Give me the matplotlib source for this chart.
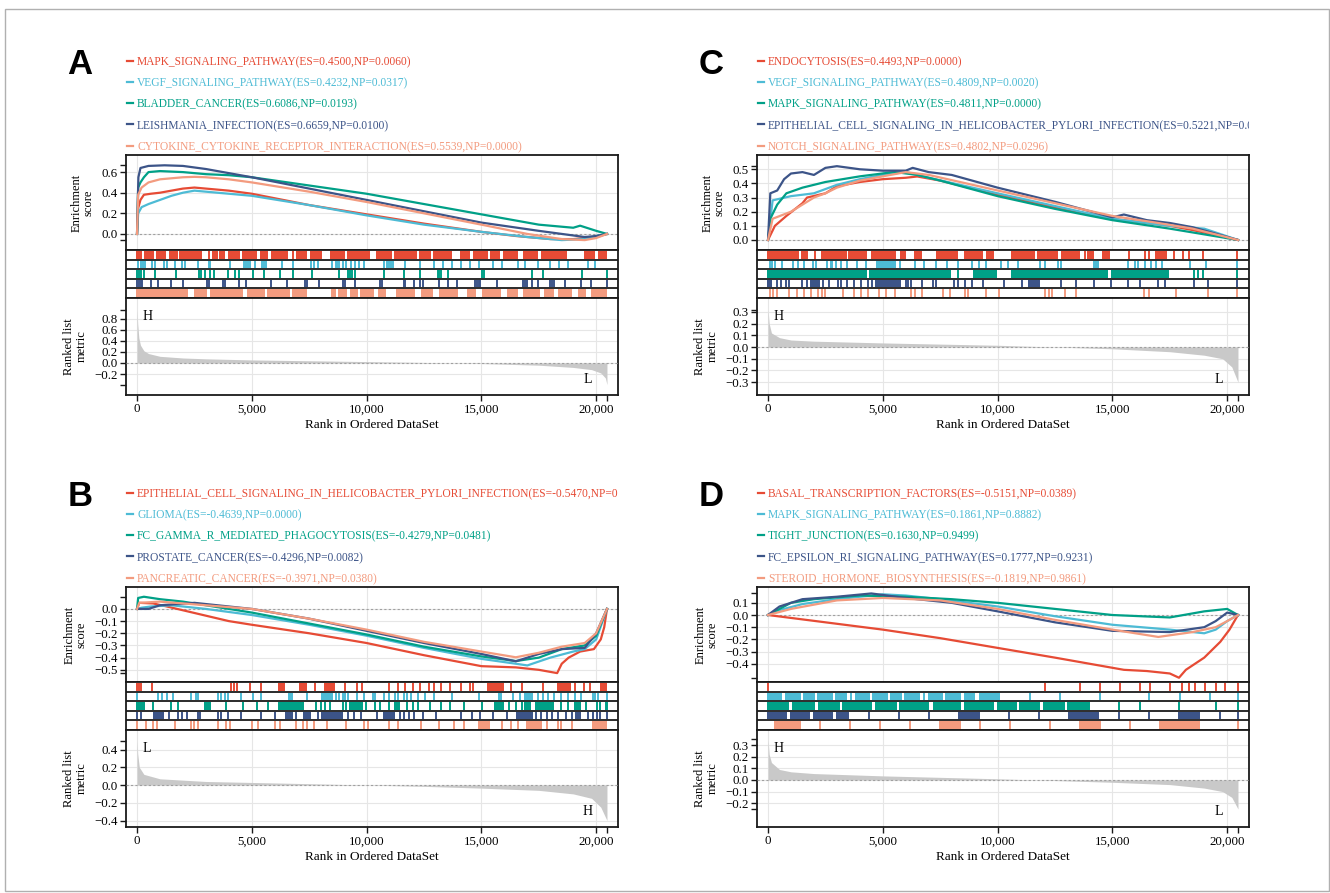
import matplotlib
matplotlib.use("Agg")
import matplotlib.pyplot as plt
from matplotlib.transforms import Bbox, TransformedBbox
from matplotlib.patches import Rectangle
from matplotlib.lines import Line2D

plt.rcParams['font.family'] = ['Liberation Serif', 'DejaVu Serif']
plt.rcParams['axes.unicode_minus'] = True

W, H = 1330, 893
N_GENES = 20470
COLORS = ["#E64B35", "#4DBBD5", "#00A087", "#3C5488", "#F39B7F"]
X_TICKS = [0, 5000, 10000, 15000, 20000]

# ---------------- Panel A ----------------
labels_A = ["MAPK_SIGNALING_PATHWAY(ES=0.4500,NP=0.0060)",
            "VEGF_SIGNALING_PATHWAY(ES=0.4232,NP=0.0317)",
            "BLADDER_CANCER(ES=0.6086,NP=0.0193)",
            "LEISHMANIA_INFECTION(ES=0.6659,NP=0.0100)",
            "CYTOKINE_CYTOKINE_RECEPTOR_INTERACTION(ES=0.5539,NP=0.0000)"]
es_A_red = [(0, 0), (50, 0.25), (150, 0.33), (300, 0.38), (600, 0.39), (1000, 0.40), (1500, 0.42), (2000, 0.44),
            (2500, 0.45), (3000, 0.44), (4000, 0.42), (5000, 0.39), (7500, 0.28), (10000, 0.19), (12500, 0.10),
            (15000, 0.02), (16500, -0.02), (18000, -0.05), (19000, -0.05), (20000, -0.03), (20470, 0)]
es_A_blue = [(0, 0), (50, 0.2), (200, 0.26), (500, 0.29), (1000, 0.33), (1500, 0.37), (2000, 0.40), (2500, 0.42),
             (3000, 0.41), (4000, 0.39), (5000, 0.37), (7500, 0.28), (10000, 0.18), (12500, 0.09), (15000, 0.02),
             (17000, -0.03), (18500, -0.06), (19500, -0.05), (20000, -0.02), (20470, 0)]
es_A_teal = [(0, 0), (50, 0.45), (150, 0.5), (300, 0.55), (500, 0.60), (1000, 0.61), (2000, 0.60), (3000, 0.58),
             (4000, 0.57), (5000, 0.55), (7500, 0.47), (10000, 0.39), (12500, 0.29), (15000, 0.19), (17500, 0.09),
             (19000, 0.06), (19300, 0.08), (20000, 0.03), (20470, 0)]
es_A_navy = [(0, 0), (60, 0.55), (150, 0.64), (500, 0.66), (1200, 0.666), (2000, 0.66), (3000, 0.63), (4000, 0.59),
             (5000, 0.55), (7500, 0.44), (10000, 0.33), (12500, 0.22), (15000, 0.11), (17500, 0.03),
             (19500, -0.03), (20000, -0.02), (20470, 0)]
es_A_salmon = [(0, 0), (50, 0.38), (200, 0.45), (500, 0.50), (1000, 0.53), (2000, 0.55), (2500, 0.554),
               (3000, 0.55), (4000, 0.53), (5000, 0.50), (7500, 0.41), (10000, 0.31), (12500, 0.20), (15000, 0.09),
               (17000, 0.0), (18500, -0.05), (19500, -0.06), (20000, -0.04), (20470, 0)]
# rug hits, in hundreds of ranks; (a, b) = dense block
rug_A_red = [(0, 2.0), (3.1, 7.0), (8.3, 12.5), (14, 17.6), (18.7, 28), 31.2, (32.7, 35.1), (35.8, 38.2),
             (39.7, 44.4), (46, 52.2), (53.8, 56.9), (58.4, 65.4), 68, (69.3, 74), (75.6, 80.2), (84.1, 90.4),
             (91.9, 101.3), (104.4, 110.6), (112.2, 121.5), (123.1, 127.8), (129.3, 137.1), (141, 144.9),
             (146.5, 152.7), (154.2, 157.8), (159.7, 165.6), (168.3, 174.5), (176, 187), (194.8, 199.4),
             (201, 204.6)]
rug_A_blue = [0.5, 1.6, 2.6, 3.6, 6.4, 7.8, 11.7, 13.2, 16.4, 19.5, 21, 26.5, 31.2, 31.9, 40.5, 46.7, 47.5, 48.3,
              49.1, 51.4, 54.5, 55.3, 56.1, 63.1, 67.8, 75.6, 77.1, 78.7, 84.9, 86.5, 87.2, 88, 89.6, 91.1, 93,
              95, 96.6, 98.9, 107.5, 109, 109.8, 110.6, 111.4, 116.9, 123.1, 129.3, 133.2, 137.1, 141, 144.9,
              148.8, 155, 158.9, 165.9, 169, 174.5, 180, 183.8, 187.7, 196.3, 199.4]
rug_A_teal = [0, 0.8, 1.6, 3.1, 7.8, 17.1, 27, 28, 29.6, 31.9, 33.5, 39.7, 42.8, 44.4, 50.6, 55.3, 62.3, 67.8,
              76.3, 88, 91.9, 92.7, 93.5, 95, 107.5, 116.1, 123.1, 130.9, 131.7, 132.5, 135.6, 150.3, 151.1,
              172.2, 176.9, 193.9, 204.6]
rug_A_navy = [0, 0.8, 1.6, 2.3, 6.2, 9.3, 14.8, 20.2, 30.4, 31.2, 37.4, 38.2, 44.4, 47.5, 58.4, 65.4, 73.2, 74,
              79.4, 89.6, 90.4, 95, 105.9, 106.7, 116.1, 116.9, 120.8, 123.1, 124.6, 131.7, 135.6, 139.5, 147.2,
              148, 148.8, 149.6, 156.6, 168.3, 169, 169.8, 172.2, 174.5, 180, 180.8, 181.6, 186.2, 193.2, 197.9,
              204.6]
rug_A_salmon = [(0, 21.8), (24.9, 30.4), (31.9, 46), (48.3, 55.3), (56.9, 66.2), (67.8, 74), (84.9, 86.5),
                (88, 91.1), (93, 95.8), (97.4, 102.8), (105.2, 108.3), (113, 120.7), (123.9, 128.5),
                (131.7, 139.4), (144.1, 147.2), (150.3, 158.1), (161.2, 165.9), (168.3, 175.3), (177.6, 181.5),
                (183.8, 189.3), (192.4, 195.5), (197.9, 204.6)]
metric_A = [(0, 0.96), (30, 0.7), (80, 0.45), (150, 0.32), (300, 0.22), (500, 0.17), (1000, 0.12), (2000, 0.09),
            (3000, 0.075), (5000, 0.055), (7500, 0.04), (10000, 0.025), (12500, 0.01), (15000, -0.01),
            (17500, -0.04), (19000, -0.08), (19800, -0.12), (20200, -0.18), (20400, -0.27), (20470, -0.39)]

# ---------------- Panel B ----------------
labels_B = ["EPITHELIAL_CELL_SIGNALING_IN_HELICOBACTER_PYLORI_INFECTION(ES=-0.5470,NP=0.0000)",
            "GLIOMA(ES=-0.4639,NP=0.0000)",
            "FC_GAMMA_R_MEDIATED_PHAGOCYTOSIS(ES=-0.4279,NP=0.0481)",
            "PROSTATE_CANCER(ES=-0.4296,NP=0.0082)",
            "PANCREATIC_CANCER(ES=-0.3971,NP=0.0380)"]
es_B_red = [(0, 0), (100, 0.05), (700, 0.045), (1300, 0.02), (4000, -0.10), (5000, -0.13), (7500, -0.20),
            (10000, -0.28), (12500, -0.38), (15000, -0.47), (16500, -0.48), (17500, -0.50), (18300, -0.527),
            (18500, -0.45), (18800, -0.40), (19300, -0.35), (19900, -0.33), (20200, -0.25), (20350, -0.15),
            (20470, 0)]
es_B_blue = [(0, 0), (200, 0.01), (600, 0.02), (1500, 0.03), (3000, 0.0), (5000, -0.05), (7500, -0.13),
             (10000, -0.22), (12500, -0.32), (15000, -0.41), (16500, -0.45), (17000, -0.464), (18000, -0.40),
             (19000, -0.35), (19500, -0.33), (20000, -0.25), (20470, 0)]
es_B_teal = [(0, 0), (50, 0.09), (300, 0.10), (1000, 0.08), (2000, 0.06), (3000, 0.03), (5000, -0.03),
             (7500, -0.12), (10000, -0.21), (12500, -0.31), (15000, -0.39), (16500, -0.428), (17500, -0.40),
             (18500, -0.33), (19500, -0.30), (20000, -0.22), (20470, 0)]
es_B_navy = [(0, 0), (500, 0.0), (1000, 0.03), (2500, 0.05), (5000, 0.0), (7500, -0.08), (10000, -0.18),
             (12500, -0.28), (15000, -0.37), (16500, -0.43), (17500, -0.37), (18500, -0.33), (19500, -0.32),
             (20000, -0.20), (20470, 0)]
es_B_salmon = [(0, 0), (100, 0.05), (1000, 0.06), (3000, 0.03), (5000, 0.0), (7500, -0.08), (10000, -0.17),
               (12500, -0.27), (15000, -0.35), (16500, -0.397), (17500, -0.36), (18500, -0.31), (19500, -0.28),
               (20000, -0.20), (20470, 0)]
rug_B_red = [0, 0.8, 1.6, 6.7, 41, 42.1, 43.6, 49.1, 53.8, (61.5, 64), (70.6, 74), 77.6, (81.5, 86.1), 90.4,
             95.8, 98.2, 109.8, 113.7, 116.9, 120, 123.1, 127, 129.3, 132.5, 136.4, 141, 144.9, 146.5,
             (152.7, 159.7), 162.8, 167.5, 176.9, (183.2, 188.6), 190.9, 194.8, 197.1, (201.8, 204.6)]
rug_B_blue = [0, 9.3, 10.9, 13.2, 15.6, 23.4, 25.7, 26.5, 35.1, 36.6, 38.2, 39.7, 45.2, 50.6, 53.8,
              (66.2, 67.8), 74, (80.2, 84.9), 86.5, 88, 89.6, 90.4, 92, 95.8, 98.9, 102.8, 103.6, 107.5, 109.8,
              112.2, 113.7, 116.1, 117.6, 119.2, 122.3, 125.4, 129.3, 137.1, 148.8, (157.4, 158.9), 163.6, 166.7,
              (169, 172.2), 174.5, 176.9, 179.2, 181.5, 184.6, 187.7, 190.8, 193.2, 198.6, 199.4, 201, 204.6]
rug_B_teal = [(0, 3.1), 7, 14.8, 17.9, (29.6, 31.9), 38.9, 46, 52.2, 56.9, (61.5, 72.4), 78, 80.2, 81.8, 84.1,
              89.6, 91.1, (92.7, 98.2), 99.7, 103.6, 105.9, 109.8, (112.2, 114.5), 117.6, 120, 122.3, 127.8,
              132.5, 136.4, 142.6, 150.3, (155.8, 159.7), 162, 165.2, 167.5, (169, 171.4), (173.8, 181.5),
              184.6, 187.7, (190.8, 193.2), 195.5, 200.2, 201.8, 204.1, 204.6]
rug_B_navy = [0, 1.6, (7, 11.7), 14, 17.9, 19.5, 21.8, 26.5, 27.3, 35.1, 36.6, 39.7, 45.2, 53.8, 60,
              (64.6, 67.8), 69.3, (72.4, 75.6), 78.7, (80.2, 89.6), 92, 94.3, 97.4, 104.4, (107.5, 112.2), 114.5,
              116.1, 118.4, 120.8, 124.6, 130.1, 141, 145.7, 149.6, 155, 161.2, (165.2, 172.2), 173.8, 176.1,
              178.4, 180.8, 183.2, 187, 189.4, (191, 193.2), 196.3, 198.6, 200.2, 201.8, 204.6]
rug_B_salmon = [0, 3.9, 7, 8.6, 16.4, 23.4, 24.9, 26.5, 35.1, 38.9, 40.5, 49.9, 52.9, 60, 62.3, 69.3, 72.4, 74,
                77.1, 82.6, 91.1, 98.9, 100.5, 109.8, 113.7, 123.9, 131.7, 137.9, 142.6, (148.8, 153.5), 158.9,
                162.8, 165.9, (169.8, 176.1), 178.4, 183.2, 184.8, 189.4, (198.6, 204.6)]
metric_B = [(0, 0.50), (30, 0.35), (100, 0.20), (300, 0.12), (1000, 0.07), (3000, 0.04), (7500, 0.015),
            (10000, 0.0), (12500, -0.015), (15000, -0.035), (17500, -0.06), (19000, -0.10), (19800, -0.15),
            (20200, -0.25), (20470, -0.40)]

# ---------------- Panel C ----------------
labels_C = ["ENDOCYTOSIS(ES=0.4493,NP=0.0000)",
            "VEGF_SIGNALING_PATHWAY(ES=0.4809,NP=0.0020)",
            "MAPK_SIGNALING_PATHWAY(ES=0.4811,NP=0.0000)",
            "EPITHELIAL_CELL_SIGNALING_IN_HELICOBACTER_PYLORI_INFECTION(ES=0.5221,NP=0.0000)",
            "NOTCH_SIGNALING_PATHWAY(ES=0.4802,NP=0.0296)"]
es_C_red = [(0, 0), (300, 0.10), (800, 0.17), (1500, 0.26), (1700, 0.30), (2500, 0.33), (3000, 0.38),
            (4000, 0.41), (5000, 0.43), (6000, 0.44), (6500, 0.449), (7500, 0.42), (10000, 0.32), (12500, 0.23),
            (15000, 0.15), (17500, 0.10), (18500, 0.07), (20470, 0)]
es_C_blue = [(0, 0), (200, 0.28), (1000, 0.31), (2000, 0.33), (3000, 0.39), (4000, 0.43), (5000, 0.46),
             (6000, 0.481), (7000, 0.44), (10000, 0.33), (12500, 0.24), (15000, 0.15), (17500, 0.10),
             (19000, 0.08), (20470, 0)]
es_C_teal = [(0, 0), (100, 0.15), (400, 0.25), (800, 0.33), (1500, 0.37), (2500, 0.41), (4000, 0.45),
             (5500, 0.481), (6500, 0.46), (7500, 0.42), (10000, 0.31), (12500, 0.22), (15000, 0.14),
             (17500, 0.08), (20470, 0)]
es_C_navy = [(0, 0), (100, 0.33), (400, 0.35), (700, 0.43), (1000, 0.47), (1500, 0.48), (2000, 0.46),
             (2500, 0.51), (3000, 0.522), (4000, 0.50), (5000, 0.49), (6000, 0.49), (6300, 0.51), (7000, 0.48),
             (8000, 0.46), (10000, 0.37), (12500, 0.27), (15000, 0.16), (15500, 0.18), (16500, 0.14),
             (17500, 0.12), (18500, 0.09), (20470, 0)]
es_C_salmon = [(0, 0), (200, 0.15), (1000, 0.20), (2000, 0.30), (2500, 0.33), (3000, 0.37), (4000, 0.42),
               (5000, 0.45), (6000, 0.48), (7000, 0.46), (10000, 0.35), (12500, 0.26), (15000, 0.17),
               (17000, 0.12), (18500, 0.08), (20470, 0)]
rug_C_red = [(0, 13.2), (14.8, 17.1), 20.3, (23.4, 34.3), (35.1, 42.8), (45.2, 55.3), (57.6, 60), (63.9, 67),
             (73.2, 82.6), (85.7, 93.5), (95, 98.2), (105.9, 116.1), (117.6, 126.2), (127.8, 135.5), 137.9,
             (139.4, 141.8), (145.7, 148.8), 157.4, 164.4, 165.9, (169, 173.7), 176.9, 180.8, 183.2, 189.4,
             204.1]
rug_C_blue = [0.8, 1.6, 3.1, 6.2, 10.9, 13.2, 15.6, 19.5, 21, 25.7, 27.3, 28, 29.6, 31.9, 34.3, 38.9, 42.8,
              (47.5, 55.3), 57.6, 63.9, 67.8, 73.2, 77.9, 82.6, 88.8, 91.9, 95, 101.3, 104.4, 109, 118.4, 120.8,
              126.2, 127.8, (141.8, 144.1), 156.6, 159.7, 161.2, 164.4, 166.7, 169, 171.4, 183.8, 190.8, 204.1]
rug_C_teal = [(0, 42.8), (44.4, 79.4), 82.6, (89.6, 99.7), (105.9, 148), (149.6, 174.5), 185.4, 187.3, 189.3,
              204.1]
rug_C_navy = [(0, 1.6), 3.9, 5.5, 7.8, 9.3, 14.8, 17.1, (18.7, 22.6), 24.1, 26.5, 30.4, 31.9, 34.3, 37.4, 40.5,
              43.6, 45.2, (46.7, 57.6), 60, 60.8, 62.3, 67, 71.7, 73.2, 81, 82.6, 85.7, 88.8, 93.5, 102.8, 110.6,
              (113.7, 118.4), 127.8, 134, 141.8, 149.6, 156.6, 162, 169.8, 172.9, 185.4, 191.6, 204.1]
rug_C_salmon = [0.8, 2.3, 3.9, 9.3, 12.5, 15.6, 18.7, 21.8, 23.4, 24.9, 32.7, 37.4, 40.5, 43.6, 48.3, 51.4, 55.3,
                62.3, 63.9, 67, 76.3, 79.4, 85.7, 87.2, 95, 100.5, 120.8, 122.3, 123.9, 129.3, 134, 163.6, 166,
                177.6, 191.6, 204.1]
metric_C = [(0, 0.32), (50, 0.20), (150, 0.12), (500, 0.08), (1000, 0.06), (2000, 0.05), (5000, 0.035),
            (10000, 0.015), (12500, 0.0), (15000, -0.015), (17500, -0.04), (19000, -0.07), (19800, -0.10),
            (20200, -0.17), (20470, -0.30)]

# ---------------- Panel D ----------------
labels_D = ["BASAL_TRANSCRIPTION_FACTORS(ES=-0.5151,NP=0.0389)",
            "MAPK_SIGNALING_PATHWAY(ES=0.1861,NP=0.8882)",
            "TIGHT_JUNCTION(ES=0.1630,NP=0.9499)",
            "FC_EPSILON_RI_SIGNALING_PATHWAY(ES=0.1777,NP=0.9231)",
            "STEROID_HORMONE_BIOSYNTHESIS(ES=-0.1819,NP=0.9861)"]
es_D_red = [(0, 0), (2500, -0.06), (5000, -0.12), (7500, -0.19), (10000, -0.27), (12500, -0.35), (14000, -0.40),
            (15500, -0.45), (16500, -0.46), (17500, -0.48), (17900, -0.515), (18200, -0.45), (18600, -0.40),
            (19000, -0.35), (19700, -0.22), (20100, -0.12), (20470, 0)]
es_D_blue = [(0, 0), (500, 0.04), (1500, 0.09), (3000, 0.13), (5000, 0.17), (6000, 0.16), (7500, 0.13),
             (10000, 0.07), (12500, -0.01), (15000, -0.08), (17500, -0.12), (19000, -0.15), (19500, -0.12),
             (20000, -0.05), (20470, 0)]
es_D_teal = [(0, 0), (1000, 0.10), (2000, 0.13), (4000, 0.16), (6000, 0.15), (8000, 0.13), (10000, 0.10),
             (12500, 0.05), (15000, 0.0), (17500, -0.02), (19000, 0.03), (20000, 0.05), (20470, 0)]
es_D_navy = [(0, 0), (500, 0.07), (1500, 0.13), (3000, 0.15), (4500, 0.177), (6000, 0.14), (8000, 0.10),
             (10000, 0.03), (12500, -0.06), (15000, -0.13), (17500, -0.14), (19000, -0.10), (19500, -0.05),
             (20000, 0.02), (20470, 0)]
es_D_salmon = [(0, 0), (1000, 0.05), (3000, 0.12), (5000, 0.14), (7500, 0.12), (10000, 0.05), (12500, -0.04),
               (15000, -0.12), (17000, -0.18), (18500, -0.14), (19500, -0.10), (20000, -0.05), (20470, 0)]
rug_D_red = [0, 120.6, 135.9, 144.6, 153.3, 162, 166.4, 175, 180.5, 183.5, 186, 190.3, 195, 199, 204.6]
rug_D_blue = [(0, 6), (7.5, 14), (15.5, 20), (21.5, 28), (29.5, 34), 36, (38, 44), (45.5, 52), (53.5, 58),
              (59.5, 66), 68, (70, 76), (77.5, 84), (85.5, 90), (92, 101), 114, 127, 144.6, 166, 179.4, 192.5,
              204.6]
rug_D_teal = [(0, 9), (10.5, 20), (22, 31), (32.5, 45), (47, 56), (57.5, 70), (72, 84), (85.5, 98),
              (100, 108), (109.5, 118), (120, 129), (130.5, 140), 153, 162, 179, 195, 204.6]
rug_D_navy = [(0, 8), (10, 18), (20, 28), (30, 35), 44, 57, 70, (83, 92), 105, 118, (131, 144), 153, 166,
              (179, 188), 197, 204.6]
rug_D_salmon = [(3, 14), 22.6, 35.7, 48.8, 61.9, (74.9, 83.6), 92.3, 105.4, 122.8, (135.9, 144.6), 157.6,
                (170.7, 188), 204.6]
metric_D = [(0, 0.35), (50, 0.22), (150, 0.15), (500, 0.09), (1000, 0.07), (2000, 0.055), (5000, 0.035),
            (10000, 0.01), (12500, -0.005), (15000, -0.02), (17500, -0.04), (19000, -0.07), (19800, -0.10),
            (20200, -0.15), (20470, -0.25)]

fig = plt.figure(figsize=(W / 100, H / 100), dpi=100)
fig.patch.set_facecolor("white")
fig.add_artist(Rectangle((5 / W, 1 - 891 / H), 1324 / W, 882 / H, transform=fig.transFigure,
                         fill=False, edgecolor="#B0B0B0", lw=1.0))

FRAME = "#1a1a1a"
GRID = "#E6E6E6"


def fax(l, t, r, b):
    return fig.add_axes([l / W, 1 - b / H, (r - l) / W, (b - t) / H])


def fmt(v):
    s = f"{v:.1f}"
    if s == "-0.0":
        s = "0.0"
    return s.replace("-", "\u2212")


def style(ax):
    for s in ax.spines.values():
        s.set_color(FRAME)
        s.set_linewidth(1.3)
    ax.set_xlim(-480, 20950)
    ax.tick_params(axis="both", which="both", direction="out", length=4, width=1.0, color=FRAME,
                   labelsize=9.3, pad=2)


def draw_panel(letter, x0, y0, labels, es_curves, es_lim, es_ticks, rugs, metric, met_lim, met_ticks,
               top_lab, bot_lab):
    left, right = x0, x0 + 492
    # panel letter
    fig.text((left - 46) / W, 1 - (y0 - 91) / H, letter, fontsize=25, fontweight="bold",
             family=["Liberation Sans", "DejaVu Sans"], ha="center", va="center")
    clip = TransformedBbox(Bbox([[0, 0], [right / W, 1]]), fig.transFigure)
    for i, (lab, col) in enumerate(zip(labels, COLORS)):
        yy = y0 - 93 + i * 21.3
        fig.add_artist(Line2D([(left + 1) / W, (left + 7) / W], [1 - (yy - 1.5) / H] * 2,
                              transform=fig.transFigure, color=col, lw=1.6))
        t = fig.text((left + 11) / W, 1 - yy / H, lab, color=col, fontsize=8.3, ha="left", va="center")
        t.set_clip_box(clip)
        t.set_clip_on(True)

    # enrichment score panel
    ax = fax(left, y0, right, y0 + 95)
    style(ax)
    ax.set_ylim(*es_lim)
    ax.set_xticks(X_TICKS)
    ax.tick_params(axis="x", bottom=False, labelbottom=False)
    ax.set_yticks(es_ticks)
    ax.set_yticklabels([fmt(v) for v in es_ticks])
    allv = [p[1] for c in es_curves for p in c]
    ax.set_yticks([min(allv), max(allv)], minor=True)
    ax.grid(True, color=GRID, lw=0.8)
    ax.set_axisbelow(True)
    ax.axhline(0, color="#A0A0A0", lw=0.8, ls=(0, (2, 2)), zorder=1)
    for c, col in zip(es_curves, COLORS):
        ax.plot([p[0] for p in c], [p[1] for p in c], color=col, lw=1.6, zorder=3)
    ax.set_ylabel("Enrichment\nscore", fontsize=9, labelpad=5, linespacing=1.0)

    # rug panel
    ar = fax(left, y0 + 95, right, y0 + 143)
    style(ar)
    ar.set_ylim(5, 0)
    ar.set_xticks([])
    ar.set_yticks([])
    for k in range(1, 5):
        ar.axhline(k, color=FRAME, lw=1.3)
    for i, (row, col) in enumerate(zip(rugs, COLORS)):
        for item in row:
            if isinstance(item, tuple):
                a, b = item
                ar.add_patch(Rectangle((a * 100 - 25, i + 0.1), (b - a) * 100 + 50, 0.8,
                                       facecolor=col, edgecolor="none"))
            else:
                ar.vlines(item * 100, i + 0.1, i + 0.9, color=col, lw=1.4)

    # ranked list metric panel
    am = fax(left, y0 + 143, right, y0 + 240)
    style(am)
    am.set_ylim(*met_lim)
    am.set_yticks(met_ticks)
    am.set_yticklabels([fmt(v) for v in met_ticks])
    mv = [p[1] for p in metric]
    am.set_yticks([min(mv), max(mv)], minor=True)
    am.set_xticks(X_TICKS)
    am.set_xticklabels([f"{v:,}" for v in X_TICKS])
    am.set_xticks([N_GENES], minor=True)
    am.grid(True, color=GRID, lw=0.8)
    am.set_axisbelow(True)
    am.fill_between([p[0] for p in metric], 0, mv, color="#C9C9C9", lw=0, zorder=2)
    am.axhline(0, color="#A0A0A0", lw=0.8, ls=(0, (2, 2)), zorder=3)
    am.text(0.043, 0.81, top_lab, transform=am.transAxes, fontsize=10, ha="center", va="center")
    am.text(0.939, 0.155, bot_lab, transform=am.transAxes, fontsize=10, ha="center", va="center")
    am.set_ylabel("Ranked list\nmetric", fontsize=9, labelpad=5, linespacing=1.0)
    am.set_xlabel("Rank in Ordered DataSet", fontsize=9.5, labelpad=3)


draw_panel("A", 126, 155, labels_A,
           [es_A_red, es_A_blue, es_A_teal, es_A_navy, es_A_salmon], (-0.156, 0.766), [0.0, 0.2, 0.4, 0.6],
           [rug_A_red, rug_A_blue, rug_A_teal, rug_A_navy, rug_A_salmon],
           metric_A, (-0.577, 1.171), [-0.2, 0.0, 0.2, 0.4, 0.6, 0.8], "H", "L")
draw_panel("B", 126, 587, labels_B,
           [es_B_red, es_B_blue, es_B_teal, es_B_navy, es_B_salmon], (-0.60, 0.18),
           [-0.5, -0.4, -0.3, -0.2, -0.1, 0.0],
           [rug_B_red, rug_B_blue, rug_B_teal, rug_B_navy, rug_B_salmon],
           metric_B, (-0.473, 0.62), [-0.4, -0.2, 0.0, 0.2, 0.4], "L", "H")
draw_panel("C", 757, 155, labels_C,
           [es_C_red, es_C_blue, es_C_teal, es_C_navy, es_C_salmon], (-0.071, 0.601),
           [0.0, 0.1, 0.2, 0.3, 0.4, 0.5],
           [rug_C_red, rug_C_blue, rug_C_teal, rug_C_navy, rug_C_salmon],
           metric_C, (-0.41, 0.419), [-0.3, -0.2, -0.1, 0.0, 0.1, 0.2, 0.3], "H", "L")
draw_panel("D", 757, 587, labels_D,
           [es_D_red, es_D_blue, es_D_teal, es_D_navy, es_D_salmon], (-0.55, 0.23),
           [-0.4, -0.3, -0.2, -0.1, 0.0, 0.1],
           [rug_D_red, rug_D_blue, rug_D_teal, rug_D_navy, rug_D_salmon],
           metric_D, (-0.405, 0.43), [-0.2, -0.1, 0.0, 0.1, 0.2, 0.3], "H", "L")

fig.savefig("out.png", dpi=100)
